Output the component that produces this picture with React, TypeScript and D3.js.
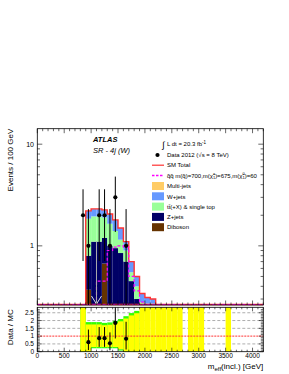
import React from "react";
import * as d3 from "d3";

// m_eff bins (lower edge, 100 GeV wide) with MC entries
const binEdges = [900, 1000, 1100, 1200, 1300, 1400, 1500, 1600, 1700, 1800, 1900, 2000, 2100];
const diboson = [0.37, 0.04, 0.04, 0.67, 0.03, 0.03, 0.02, 0.02, 0.01, 0.01, 0.01, 0.01, 0.01];
const zJets = [0.43, 1.06, 1.06, 0.53, 0.97, 0.92, 0.83, 0.68, 0.44, 0.29, 0.19, 0.14, 0.11];
const ttbar = [1.05, 0.85, 0.85, 0.7, 0.65, 0.45, 0.3, 0.2, 0.1, 0.1, 0.08, 0.12, 0.15];
const wJets = [0.35, 0.35, 0.35, 0.35, 0.4, 0.4, 0.35, 0.2, 0.15, 0.1, 0.06, 0.04, 0.03];
const multiJets = [0.01, 0.01, 0.01, 0.01, 0.01, 0, 0, 0, 0, 0, 0, 0, 0];

const signalEdges = [1100, 1200, 1300, 1400, 1500, 1600, 1700, 1800, 1900];
const signal = [0.45, 0.45, 0.9, 0.97, 1.0, 0.97, 0.5, 0.36, 0.28];

const dataX = [850, 950, 1150, 1250, 1350, 1450, 1650];
const dataY = [2, 1, 2, 2, 1, 3, 1];
const dataLo = [0.71, 0.17, 0.71, 0.71, 0.17, 1.37, 0.17];
const dataHi = [3.6, 2.3, 3.6, 3.6, 2.3, 4.8, 2.3];
const emptyX = [1100];
const emptyHi = [1.1];

const ratioX = [950, 1150, 1250, 1350, 1450, 1650];
const ratioY = [0.61, 0.87, 0.87, 0.54, 1.85, 0.83];
const ratioLo = [0.1, 0.31, 0.31, 0.09, 0.85, 0.14];
const ratioHi = [1.42, 1.58, 1.58, 1.24, 3.3, 1.92];

// uncertainty band of the ratio
const bandEdges = [800, 900, 1000, 1100, 1200, 1300, 1400, 1500, 1600, 1700, 1800];
const bandLo = [0, 0, 0.3, 0.3, 0.3, 0.3, 0.3, 0.15, 0, 0, 0];
const bandHi = [2.85, 1.75, 1.75, 1.75, 1.7, 1.73, 1.83, 1.95, 2.13, 2.33, 2.47];
const bandFullEdges = [1900, 2000, 2100, 2200, 2300, 2400, 2500, 2600, 2800, 2900, 3000, 3500];

const layers = [
  { key: "diboson", label: "Diboson", values: diboson },
  { key: "zjets", label: "Z+jets", values: zJets },
  { key: "ttbar", label: "tt̄(+X) & single top", values: ttbar },
  { key: "wjets", label: "W+jets", values: wJets },
  { key: "multijets", label: "Multi-jets", values: multiJets },
];
const colors: Record<string, string> = {
  diboson: "#663300",
  zjets: "#000066",
  ttbar: "#99ff99",
  wjets: "#6699ff",
  multijets: "#ffcc66",
};
const legendOrder = ["multijets", "wjets", "ttbar", "zjets", "diboson"];

const W = 289;
const H = 374;
const left = 37.3;
const right = 263.3;
const mainTop = 128.7;
const mainBot = 305;
const ratTop = 307.3;
const ratBot = 351.7;
const font = "'Liberation Sans', Arial, Helvetica, sans-serif";

export default function App() {
  const x = d3.scaleLinear().domain([0, 4200]).range([left, right]);
  const y = d3.scaleLog().domain([0.262, 14.2]).range([mainBot, mainTop]).clamp(true);
  const r = d3.scaleLinear().domain([0, 2.85]).range([ratBot, ratTop]).clamp(true);
  const ys = (v: number) => y(Math.max(v, 1e-4));

  const rows = binEdges.map((e, i) => {
    const row: any = { edge: e };
    layers.forEach((l) => (row[l.key] = l.values[i]));
    return row;
  });
  const stacked = d3.stack<any>().keys(layers.map((l) => l.key))(rows);
  const totals = rows.map((row) => layers.reduce((s, l) => s + row[l.key], 0));

  const step = (edges: number[], vals: number[]) => {
    const pts: [number, number][] = [[x(edges[0]), mainBot]];
    edges.forEach((e, i) => {
      pts.push([x(e), ys(vals[i])]);
      pts.push([x(e + 100), ys(vals[i])]);
    });
    pts.push([x(edges[edges.length - 1] + 100), mainBot]);
    return d3.line()(pts) || "";
  };

  const xTicks = d3.range(0, 4201, 100);
  const yTicks = y.ticks();
  const rTicks = d3.range(0, 28).map((i) => i / 10);
  const bw = x(100) - x(0);

  return (
    <svg width={W} height={H} style={{ position: "absolute", left: 0, top: 0, background: "#fff" }} fontFamily={font}>
      {/* ===== main panel ===== */}
      {stacked.map((layer) => (
        <g key={layer.key} fill={colors[layer.key]}>
          {layer.map((d, i) => (
            <rect
              key={i}
              x={x(d.data.edge)}
              width={bw}
              y={ys(d[1])}
              height={Math.max(0, ys(d[0]) - ys(d[1]))}
            />
          ))}
        </g>
      ))}
      <line x1={left} x2={right} y1={mainBot - 0.5} y2={mainBot - 0.5} stroke="#ff3333" strokeWidth={1.4} />
      <path d={step(binEdges, totals)} fill="none" stroke="#ff3333" strokeWidth={1.4} />
      <line x1={left} x2={right} y1={mainBot - 0.5} y2={mainBot - 0.5} stroke="#ff00ff" strokeWidth={1} strokeDasharray="3,2" />
      <path d={step(signalEdges, signal)} fill="none" stroke="#ff00ff" strokeWidth={1.2} strokeDasharray="3,2" />

      {emptyX.map((v, i) => (
        <g key={i} stroke="#aaaaaa" strokeWidth={1} fill="none">
          <line x1={x(v)} x2={x(v)} y1={ys(emptyHi[i])} y2={mainBot} />
          <path d={`M${x(v) - 5},${mainBot - 9}L${x(v)},${mainBot - 1}L${x(v) + 5},${mainBot - 9}`} stroke="#dddddd" />
        </g>
      ))}
      {dataX.map((v, i) => (
        <g key={i}>
          <line x1={x(v)} x2={x(v)} y1={ys(dataHi[i])} y2={ys(dataLo[i])} stroke="#000" strokeWidth={1} />
          <circle cx={x(v)} cy={ys(dataY[i])} r={2.1} fill="#000" />
        </g>
      ))}

      <rect x={left} y={mainTop} width={right - left} height={mainBot - mainTop} fill="none" stroke="#000" strokeWidth={0.8} />
      {xTicks.map((t) => {
        const len = t % 500 === 0 ? 4.5 : 2.5;
        return (
          <g key={t} stroke="#000" strokeWidth={0.6}>
            <line x1={x(t)} x2={x(t)} y1={mainBot} y2={mainBot - len} />
            <line x1={x(t)} x2={x(t)} y1={mainTop} y2={mainTop + len} />
          </g>
        );
      })}
      {yTicks.map((t) => {
        const major = Math.abs(Math.log10(t) - Math.round(Math.log10(t))) < 1e-6;
        const len = major ? 5 : 2.7;
        return (
          <g key={t}>
            <line x1={left} x2={left + len} y1={y(t)} y2={y(t)} stroke="#000" strokeWidth={0.6} />
            <line x1={right} x2={right - len} y1={y(t)} y2={y(t)} stroke="#000" strokeWidth={0.6} />
            {major && (
              <text x={34} y={y(t) + 2.4} fontSize={7} textAnchor="end">
                {t}
              </text>
            )}
          </g>
        );
      })}
      <text transform={`translate(13,${mainTop}) rotate(-90)`} fontSize={8} textAnchor="end">
        Events / 100 GeV
      </text>

      <text x={93} y={141.7} fontSize={7.5} fontWeight="bold" fontStyle="italic">
        ATLAS
      </text>
      <text x={93} y={152.5} fontSize={7.5} fontStyle="italic">
        SR - 4j (W)
      </text>

      {/* legend */}
      <g fontSize={6}>
        <text x={162} y={147.5} fontSize={9}>
          ∫
        </text>
        <text x={167} y={146}>
          L dt = 20.3 fb
          <tspan dy={-2.4} fontSize={4.5}>
            -1
          </tspan>
        </text>
        <circle cx={157.5} cy={155} r={2.1} fill="#000" />
        <text x={167} y={157.2}>
          Data 2012 (√s = 8 TeV)
        </text>
        <line x1={152} x2={164} y1={165.2} y2={165.2} stroke="#ff3333" strokeWidth={1.2} />
        <text x={167} y={167.4}>
          SM Total
        </text>
        <line x1={152} x2={164} y1={175.5} y2={175.5} stroke="#ff00ff" strokeWidth={1.4} strokeDasharray="2.5,1.5" />
        <text x={167} y={177.6}>
          q̃q̃ m(q̃)=700,m(χ̃
          <tspan dy={-2.2} fontSize={4}>
            ±
          </tspan>
          <tspan dx={-2.3} dy={3.6} fontSize={4}>
            1
          </tspan>
          <tspan dy={-1.4}>)=675,m(χ̃</tspan>
          <tspan dy={-2.2} fontSize={4}>
            0
          </tspan>
          <tspan dx={-2.2} dy={3.6} fontSize={4}>
            1
          </tspan>
          <tspan dy={-1.4}>)=60</tspan>
        </text>
        {legendOrder.map((k, i) => {
          const l = layers.find((d) => d.key === k)!;
          const cy = 186 + i * 10.3;
          return (
            <g key={k}>
              <rect x={152} y={cy - 4} width={12} height={8} fill={colors[k]} />
              <text x={167} y={cy + 2.2}>
                {l.label}
              </text>
            </g>
          );
        })}
      </g>

      {/* ===== ratio panel ===== */}
      {[0.5, 1.5, 2, 2.5].map((g) => (
        <line key={g} x1={left} x2={right} y1={r(g)} y2={r(g)} stroke="#777" strokeWidth={0.6} strokeDasharray="3,2" />
      ))}
      {bandEdges.map((e, i) => (
        <g key={e}>
          <rect x={x(e)} width={bw} y={r(bandHi[i] + 0.15)} height={r(bandLo[i]) - r(bandHi[i] + 0.15)} fill="#33ff00" />
          <rect x={x(e)} width={bw} y={r(bandHi[i])} height={r(bandLo[i]) - r(bandHi[i])} fill="#ffff00" />
          {bandLo[i] > 0 && (
            <rect x={x(e)} width={bw} y={r(bandLo[i])} height={r(bandLo[i] - 0.08) - r(bandLo[i])} fill="#33ff00" />
          )}
        </g>
      ))}
      {bandFullEdges.map((e) => (
        <rect key={e} x={x(e)} width={bw} y={ratTop} height={ratBot - ratTop} fill="#ffff00" />
      ))}
      <line x1={left} x2={right} y1={r(1)} y2={r(1)} stroke="#ff3333" strokeWidth={1} strokeDasharray="2,1" />
      {ratioX.map((v, i) => (
        <g key={i}>
          <line x1={x(v)} x2={x(v)} y1={r(ratioHi[i])} y2={r(ratioLo[i])} stroke="#000" strokeWidth={1} />
          <circle cx={x(v)} cy={r(ratioY[i])} r={2.1} fill="#000" />
        </g>
      ))}
      <rect x={left} y={ratTop} width={right - left} height={ratBot - ratTop} fill="none" stroke="#000" strokeWidth={0.8} />
      {xTicks.map((t) => {
        const len = t % 500 === 0 ? 4 : 2;
        return (
          <g key={t}>
            <line x1={x(t)} x2={x(t)} y1={ratBot} y2={ratBot - len} stroke="#000" strokeWidth={0.6} />
            <line x1={x(t)} x2={x(t)} y1={ratTop} y2={ratTop + len} stroke="#000" strokeWidth={0.6} />
            {t % 500 === 0 && (
              <text x={x(t)} y={358} fontSize={6.5} textAnchor="middle">
                {t}
              </text>
            )}
          </g>
        );
      })}
      {rTicks.map((t, i) => {
        const major = i % 5 === 0;
        const len = major ? 4.5 : 2.5;
        return (
          <g key={i}>
            <line x1={left} x2={left + len} y1={r(t)} y2={r(t)} stroke="#000" strokeWidth={0.6} />
            <line x1={right} x2={right - len} y1={r(t)} y2={r(t)} stroke="#000" strokeWidth={0.6} />
            {major && (
              <text x={34} y={r(t) + 2.3} fontSize={6.5} textAnchor="end">
                {d3.format("~g")(t)}
              </text>
            )}
          </g>
        );
      })}
      <text transform={`translate(13,${ratTop + 2}) rotate(-90)`} fontSize={8} textAnchor="end">
        Data / MC
      </text>
      <text x={right} y={369} fontSize={8} textAnchor="end">
        m
        <tspan dy={2} fontSize={6}>
          eff
        </tspan>
        <tspan dy={-2}>(incl.) [GeV]</tspan>
      </text>
    </svg>
  );
}
